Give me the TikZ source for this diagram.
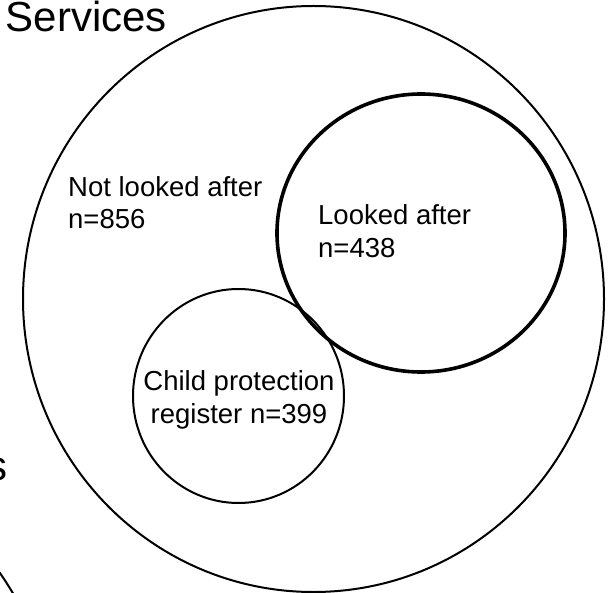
\documentclass[tikz,border=0pt]{standalone}
\usepackage{fontspec}
\setmainfont{Liberation Sans}
\usetikzlibrary{shapes.geometric}
\tikzset{
  setring/.style={draw=black, ellipse, inner sep=0pt, line width=2pt},
  thickring/.style={setring, line width=3.6pt},
  lbl/.style={inner sep=0pt, font=\fontsize{27.5}{33}\selectfont},
  biglbl/.style={inner sep=0pt, font=\fontsize{42}{48}\selectfont}
}
\begin{document}
\begin{tikzpicture}[x=1pt, y=-1pt]
  \useasboundingbox (0,0) rectangle (610,593);

  % the three sets
  \node[setring, minimum width=581pt, minimum height=586pt] (all) at (313.5,299) {};
  \node[thickring, minimum width=288pt, minimum height=278pt] (lac) at (421,233) {};
  \node[setring, minimum width=211pt, minimum height=214pt] (cpr) at (238.5,396) {};

  % edge of the neighbouring diagram
  \draw[line width=2pt] (-3,569) .. controls (3,577) and (8,585) .. (14,595);
  \node[biglbl, anchor=base east] (tail) at (7.5,480) {s};

  % labels
  \node[biglbl, anchor=base west] (title) at (5.5,32) {Services};
  \node[lbl, anchor=base west] (nla1) at (68,197) {Not looked after};
  \node[lbl, anchor=base west] (nla2) at (68,229) {n=856};
  \node[lbl, anchor=base west] (la1) at (318,225) {Looked after};
  \node[lbl, anchor=base west] (la2) at (318,258) {n=438};
  \node[lbl, anchor=base] (cp1) at (239,390) {Child protection};
  \node[lbl, anchor=base] (cp2) at (239,423) {register n=399};
\end{tikzpicture}
\end{document}
